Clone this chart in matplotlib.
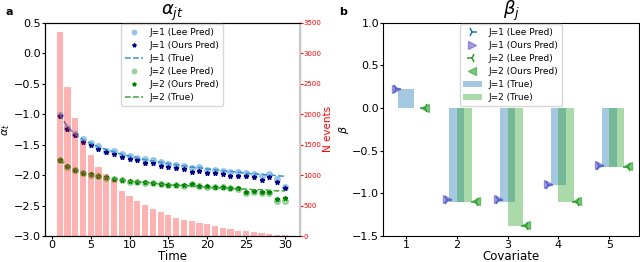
import numpy as np
import matplotlib.pyplot as plt

# ---- data ----
time = np.arange(1, 31)
n_events = [3355, 2442, 1933, 1560, 1330, 1138, 1022, 918, 738, 660,
            578, 505, 450, 386, 341, 301, 267, 239, 210, 193,
            159, 136, 119, 87, 74, 62, 42, 34, 17, 11]

j1_true = [-1.00, -1.21, -1.33, -1.42, -1.48, -1.54, -1.58, -1.62, -1.66, -1.69,
           -1.72, -1.75, -1.77, -1.79, -1.81, -1.83, -1.85, -1.87, -1.88, -1.90,
           -1.91, -1.93, -1.94, -1.95, -1.97, -1.98, -1.99, -2.00, -2.01, -2.02]
j1_lee = [-1.01, -1.22, -1.33, -1.41, -1.47, -1.53, -1.60, -1.61, -1.65, -1.68,
          -1.72, -1.74, -1.75, -1.79, -1.82, -1.83, -1.85, -1.88, -1.87, -1.91,
          -1.91, -1.93, -1.95, -1.95, -1.96, -1.98, -2.01, -1.98, -2.07, -2.19]
j1_ours = [-1.03, -1.24, -1.35, -1.45, -1.51, -1.57, -1.62, -1.65, -1.70, -1.73,
           -1.76, -1.80, -1.81, -1.85, -1.86, -1.88, -1.90, -1.95, -1.93, -1.97,
           -1.97, -1.99, -2.01, -2.01, -2.02, -2.04, -2.08, -2.04, -2.11, -2.22]

j2_true = [-1.75, -1.85, -1.91, -1.96, -1.99, -2.02, -2.04, -2.06, -2.08, -2.10,
           -2.11, -2.12, -2.13, -2.15, -2.16, -2.17, -2.17, -2.18, -2.19, -2.20,
           -2.21, -2.21, -2.22, -2.23, -2.23, -2.24, -2.24, -2.25, -2.26, -2.26]
j2_lee = [-1.75, -1.86, -1.92, -1.96, -2.00, -2.01, -2.05, -2.07, -2.08, -2.11,
          -2.11, -2.13, -2.13, -2.15, -2.17, -2.16, -2.18, -2.15, -2.18, -2.19,
          -2.20, -2.20, -2.22, -2.23, -2.30, -2.28, -2.29, -2.29, -2.43, -2.42]
j2_ours = [-1.75, -1.85, -1.91, -1.96, -1.99, -2.01, -2.04, -2.06, -2.08, -2.10,
           -2.11, -2.12, -2.13, -2.14, -2.16, -2.16, -2.17, -2.14, -2.18, -2.18,
           -2.19, -2.20, -2.21, -2.22, -2.27, -2.26, -2.27, -2.27, -2.39, -2.38]

covariate = np.arange(1, 6)
beta1_true = [0.22, -1.10, -1.10, -0.90, -0.69]
beta2_true = [0.00, -1.10, -1.38, -1.10, -0.69]
beta1_lee = [0.22, -1.08, -1.08, -0.90, -0.68]
beta1_ours = [0.22, -1.07, -1.07, -0.89, -0.67]
beta2_lee = [0.00, -1.10, -1.38, -1.10, -0.69]
beta2_ours = [0.00, -1.09, -1.37, -1.09, -0.68]

fig = plt.figure(figsize=(6.4, 2.62), dpi=100)

# ---- panel a ----
ax = fig.add_axes([0.0703, 0.0992, 0.3977, 0.8142])
ax2 = ax.twinx()
ax2.bar(time, n_events, width=0.8, color='red', alpha=0.3)
ax2.set_ylim(0, 3500)
ax2.set_yticks(np.arange(0, 3501, 500))
ax2.tick_params(axis='y', colors='red', labelsize=5, length=2, pad=1)
ax2.set_ylabel('N events', color='red', fontsize=7.5, labelpad=1)
ax2.spines['right'].set_color('#c8c8c8')
ax2.spines['right'].set_linewidth(1.5)

h = []
h += ax.plot(time, j1_lee, 'o', color='#8ec1e6', ms=4, alpha=0.9, label='J=1 (Lee Pred)')
h += ax.plot(time, j1_ours, '*', color='navy', ms=3.5, label='J=1 (Ours Pred)')
h += ax.plot(time, j1_true, '--', color='#3a8fd0', lw=1.1, label='J=1 (True)')
h += ax.plot(time, j2_lee, 'o', color='#8fd18f', ms=4, alpha=0.9, label='J=2 (Lee Pred)')
h += ax.plot(time, j2_ours, '*', color='green', ms=3.5, label='J=2 (Ours Pred)')
h += ax.plot(time, j2_true, '--', color='#3aa63a', lw=1.1, label='J=2 (True)')
ax.set_ylim(-3.0, 0.5)
ax.set_xlim(-0.89, 31.89)
ax.set_xticks(np.arange(0, 31, 5))
ax.tick_params(labelsize=8, length=2, pad=1)
ax.set_xlabel('Time', fontsize=8.5, labelpad=0)
ax.set_ylabel(r'$\alpha_t$', fontsize=8, labelpad=1)
ax.set_title(r'$\alpha_{jt}$', fontsize=13, pad=2)
ax2.legend(handles=h, loc='upper center', fontsize=6.5, handlelength=2.0,
           labelspacing=0.45, borderpad=0.4, borderaxespad=0.2, markerscale=0.8)
fig.text(0.008, 0.975, 'a', fontsize=8, fontweight='bold', va='top')

# ---- panel b ----
bx = fig.add_axes([0.599, 0.0992, 0.399, 0.8142])
bx.bar(covariate, beta1_true, width=0.3, color='#1f77b4', alpha=0.4, label='J=1 (True)')
bx.bar(covariate + 0.15, beta2_true, width=0.3, color='#2ca02c', alpha=0.4, label='J=2 (True)')
bx.plot(covariate - 0.2, beta1_lee, '4', color='#1f77b4', ms=7, mew=1.1, label='J=1 (Lee Pred)')
bx.plot(covariate - 0.2, beta1_ours, '>', color='slateblue', ms=5.5, alpha=0.6, label='J=1 (Ours Pred)')
bx.plot(covariate + 0.37, beta2_lee, '3', color='#2ca02c', ms=7, mew=1.1, label='J=2 (Lee Pred)')
bx.plot(covariate + 0.37, beta2_ours, '<', color='#2ca02c', ms=5.5, alpha=0.6, label='J=2 (Ours Pred)')
bx.set_ylim(-1.5, 1.0)
bx.set_xlim(0.553, 5.58)
bx.set_xticks(covariate)
bx.tick_params(labelsize=8, length=2, pad=1)
bx.set_xlabel('Covariate', fontsize=8.5, labelpad=0)
bx.set_ylabel(r'$\beta$', fontsize=8, labelpad=1)
bx.set_title(r'$\beta_j$', fontsize=13, pad=2)
bx.legend(loc='upper center', fontsize=6.5, handlelength=2.0,
          labelspacing=0.45, borderpad=0.4, borderaxespad=0.2)
fig.text(0.53, 0.975, 'b', fontsize=8, fontweight='bold', va='top')

plt.savefig('out.png', dpi=100)
